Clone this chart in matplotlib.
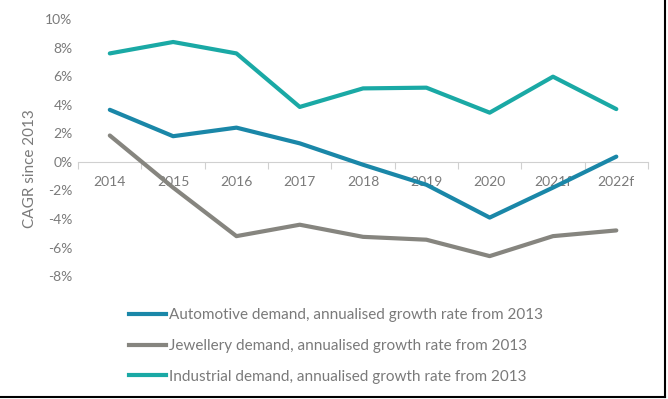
import matplotlib.pyplot as plt
from matplotlib.lines import Line2D

plt.rcParams['font.family'] = ['Lato', 'DejaVu Sans']

# Dados
anos = ['2014', '2015', '2016', '2017', '2018', '2019', '2020', '2021f', '2022f']
automotivo = [3.65, 1.8, 2.4, 1.3, -0.2, -1.6, -3.9, -1.8, 0.37]
joalheria = [1.85, -1.8, -5.2, -4.4, -5.25, -5.45, -6.6, -5.2, -4.8]
industrial = [7.6, 8.4, 7.6, 3.85, 5.15, 5.2, 3.45, 5.97, 3.7]

nomes = ['Automotive demand, annualised growth rate from 2013',
         'Jewellery demand, annualised growth rate from 2013',
         'Industrial demand, annualised growth rate from 2013']
cores = ['#1a87a8', '#86857f', '#1aa9a5']
texto = '#7a7a7a'

fig = plt.figure(figsize=(6.68, 3.99), dpi=100)
ax = fig.add_axes([0.117, 0.308, 0.853, 0.644])

x = range(len(anos))
for serie, cor in zip([automotivo, joalheria, industrial], cores):
    ax.plot(x, serie, color=cor, lw=3, solid_capstyle='round', zorder=3)

ax.set_xlim(-0.5, len(anos) - 0.5)
ax.set_ylim(-8, 10)
ax.set_yticks(range(-8, 11, 2))
ax.set_yticklabels([f'{v}%' for v in range(-8, 11, 2)], color=texto, fontsize=10)
ax.tick_params(axis='y', length=0, pad=4)

# eixo x no zero, marcas entre categorias
for lado in ['left', 'right', 'top']:
    ax.spines[lado].set_visible(False)
ax.spines['bottom'].set_position(('data', 0))
ax.spines['bottom'].set_color('#d0d0d0')
ax.set_xticks([i - 0.5 for i in range(len(anos) + 1)])
ax.set_xticklabels([])
ax.set_xticks(list(x), minor=True)
ax.set_xticklabels(anos, minor=True, color=texto, fontsize=10)
ax.tick_params(axis='x', which='major', length=5, color='#d0d0d0', direction='out')
ax.tick_params(axis='x', which='minor', length=0, pad=10)

ax.set_ylabel('CAGR since 2013', color=texto, fontsize=11)
ax.yaxis.set_label_coords(-0.072, 0.42)

# Legenda
linhas = [Line2D([0], [0], color=c, lw=3) for c in cores]
fig.legend(linhas, nomes, loc='upper left', bbox_to_anchor=(0.172, 0.262),
           frameon=False, fontsize=11, labelcolor=texto, handlelength=2.45,
           handletextpad=0.2, labelspacing=1.1)

# borda preta da imagem original
fig.add_artist(Line2D([0.996, 0.996], [0.005, 1], color='black', lw=1.5))
fig.add_artist(Line2D([0, 0.996], [0.006, 0.006], color='black', lw=1.5))

plt.savefig('out.png', dpi=100)
